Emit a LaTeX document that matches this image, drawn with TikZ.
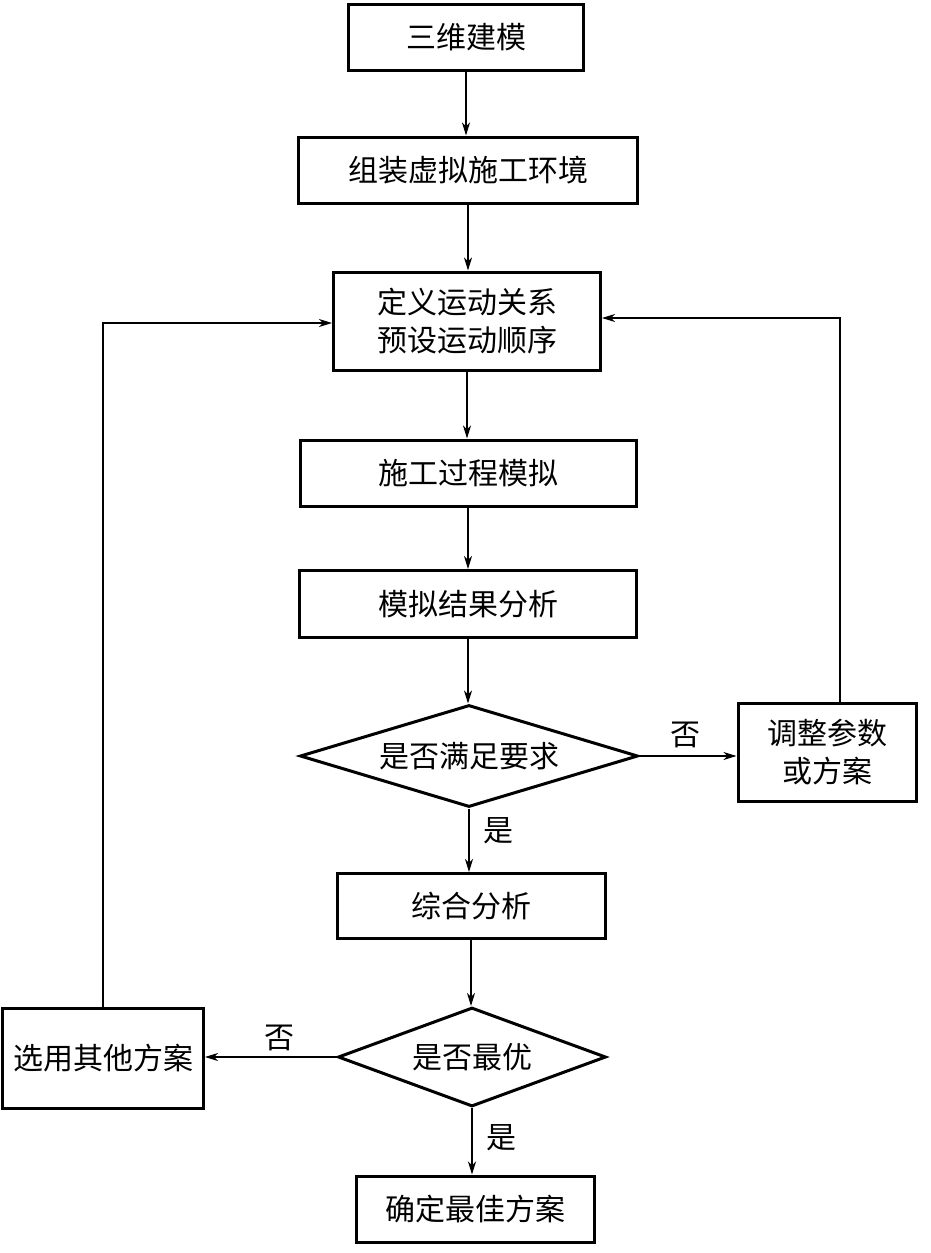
\documentclass[tikz,border=0pt]{standalone}
\usepackage{fontspec}
\setmainfont{Noto Sans CJK SC}
\usetikzlibrary{shapes.geometric,arrows.meta}
\begin{document}
\begin{tikzpicture}[x=1pt,y=-1pt,
  txt/.style={font=\fontsize{30}{38}\selectfont},
  box/.style={txt,draw,line width=3pt,inner sep=0pt,align=center},
  dia/.style={txt,draw,line width=3pt,inner sep=0pt,shape=diamond},
  arr/.style={line width=1.3pt,-{Stealth[length=13pt,width=8pt,inset=4pt]}},
  lbl/.style={txt}]
\useasboundingbox (0,0) rectangle (931,1253);
\node[box,minimum width=235,minimum height=66] (b1) at (466,37) {三维建模};
\node[box,minimum width=339,minimum height=66] (b2) at (468,170) {组装虚拟施工环境};
\node[box,minimum width=267,minimum height=98] (b3) at (467,321) {定义运动关系\\预设运动顺序};
\node[box,minimum width=336,minimum height=66] (b4) at (468,473) {施工过程模拟};
\node[box,minimum width=337,minimum height=67] (b5) at (468,604) {模拟结果分析};
\node[dia,aspect=3.3,minimum width=338,minimum height=102] (d1) at (469,756) {是否满足要求};
\node[box,minimum width=178,minimum height=98] (adj) at (827,752) {调整参数\\或方案};
\node[box,minimum width=268,minimum height=65] (b6) at (471,906) {综合分析};
\node[dia,aspect=3,minimum width=268,minimum height=99] (d2) at (472,1057) {是否最优};
\node[box,minimum width=201,minimum height=100] (alt) at (103,1058) {选用其他方案};
\node[box,minimum width=238,minimum height=66] (b7) at (475,1209) {确定最佳方案};

\draw[arr] (b1.south) -- (b1.south |- b2.north);
\draw[arr] (b2.south) -- (b2.south |- b3.north);
\draw[arr] (b3.south) -- (b3.south |- b4.north);
\draw[arr] (b4.south) -- (b4.south |- b5.north);
\draw[arr] (b5.south) -- (b5.south |- d1.north);
\draw[arr] (d1.south) -- (d1.south |- b6.north);
\draw[arr] (b6.south) -- (b6.south |- d2.north);
\draw[arr] (d2.south) -- (d2.south |- b7.north);
\draw[arr] (d1.east) -- (d1.east -| adj.west);
\draw[arr] (d2.west) -- (d2.west -| alt.east);
\draw[arr] ([xshift=13pt]adj.north) |- ([yshift=3pt]b3.east);
\draw[arr] (alt.north) |- ([yshift=-2pt]b3.west);

\node[lbl] (l1) at (685,735) {否};
\node[lbl] (l2) at (498,831) {是};
\node[lbl] (l3) at (279,1038) {否};
\node[lbl] (l4) at (501,1138) {是};
\end{tikzpicture}
\end{document}
